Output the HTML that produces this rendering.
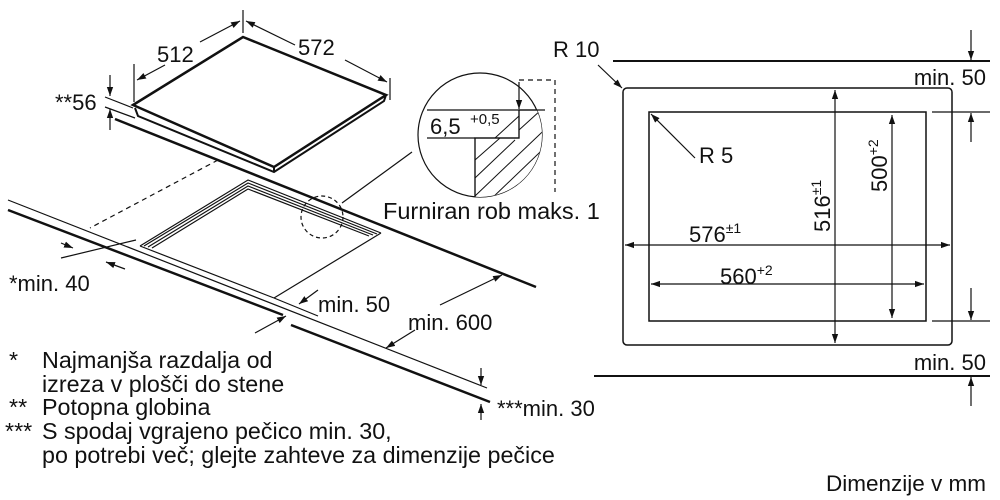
<!DOCTYPE html>
<html><head><meta charset="utf-8"><style>
body{margin:0;background:#fff}
svg{display:block}
text{font-family:"Liberation Sans",sans-serif;fill:#111}
</style></head><body>
<svg width="1000" height="500" viewBox="0 0 1000 500" xmlns="http://www.w3.org/2000/svg">
<defs>
<marker id="a" viewBox="0 0 10 10" refX="10" refY="5" markerWidth="9" markerHeight="9" orient="auto-start-reverse" markerUnits="userSpaceOnUse"><path d="M0,1.5 L10,5 L0,8.5 z" fill="#111"/></marker>
<clipPath id="cc"><circle cx="480" cy="135" r="62"/></clipPath>
</defs>
<g stroke="#111" fill="none" stroke-width="1.2">
<polygon points="133,105 243,37 386,95 274,167" stroke-width="2.5" fill="#fff"/>
<polyline points="135,108 138,116 274,172 384,101 386,95" stroke-width="2"/>
<line x1="274" y1="167" x2="274" y2="172" stroke-width="2"/>
<line x1="134" y1="64" x2="134" y2="102"/>
<line x1="243" y1="10" x2="243" y2="33"/>
<line x1="390" y1="78" x2="390" y2="100"/>
<line x1="200" y1="42" x2="240" y2="21" marker-end="url(#a)"/>
<line x1="165" y1="65" x2="137" y2="80" marker-end="url(#a)"/>
<line x1="295" y1="45" x2="246" y2="21" marker-end="url(#a)"/>
<line x1="345" y1="60" x2="387" y2="82" marker-end="url(#a)"/>
<line x1="105" y1="97" x2="133" y2="108"/>
<line x1="105" y1="107" x2="135" y2="118"/>
<line x1="110" y1="75" x2="110" y2="96" marker-end="url(#a)"/>
<line x1="110" y1="130" x2="110" y2="109" marker-end="url(#a)"/>
<line x1="115" y1="119" x2="536" y2="287" stroke-width="2.5"/>
<line x1="8" y1="200" x2="487" y2="388"/>
<line x1="8" y1="210" x2="283" y2="315" stroke-width="2.5"/>
<line x1="291" y1="325" x2="490" y2="402" stroke-width="2.5"/>
<line x1="218" y1="160" x2="90" y2="228" stroke-dasharray="5,4"/>
<line x1="61" y1="258" x2="136" y2="240"/>
<line x1="61" y1="243" x2="73" y2="248" marker-end="url(#a)"/>
<line x1="125" y1="269" x2="106" y2="262" marker-end="url(#a)"/>
<polyline points="140,246 248,180 381,233"/>
<polyline points="144,246 248,183 377,234"/>
<polyline points="148,247 248,186 373,235"/>
<polyline points="152,248 248,189 369,236"/>
<line x1="140" y1="246" x2="274" y2="298"/>
<line x1="381" y1="233" x2="274" y2="298"/>
<circle cx="322" cy="217" r="21" stroke-dasharray="4,3"/>
<line x1="342" y1="203" x2="412" y2="152"/>
<line x1="274" y1="298" x2="318" y2="316"/>
<line x1="318" y1="290" x2="299" y2="304" marker-end="url(#a)"/>
<line x1="255" y1="333" x2="286" y2="316" marker-end="url(#a)"/>
<line x1="415" y1="330" x2="386" y2="348" marker-end="url(#a)"/>
<line x1="440" y1="305" x2="502" y2="275" marker-end="url(#a)"/>
<line x1="481" y1="368" x2="481" y2="385" marker-end="url(#a)"/>
<line x1="481" y1="420" x2="481" y2="404" marker-end="url(#a)"/>
<circle cx="480" cy="135" r="62" fill="#fff"/>
<g clip-path="url(#cc)">
<polygon points="519,110 560,110 560,200 475,200 475,138 519,138" fill="#fff"/>
<g stroke-width="1">
<line x1="475" y1="160" x2="500" y2="138"/><line x1="475" y1="178" x2="515" y2="140"/>
<line x1="475" y1="196" x2="560" y2="115"/><line x1="490" y1="200" x2="560" y2="133"/>
<line x1="508" y1="200" x2="560" y2="151"/><line x1="519" y1="130" x2="541" y2="110"/>
<line x1="495" y1="138" x2="519" y2="116"/>
</g>
</g>
<polyline points="427,110 519,110 519,138 475,138 475,197"/>
<line x1="427" y1="138" x2="475" y2="138"/>
<line x1="519" y1="110" x2="545" y2="110"/>
<polyline points="519,80 555,80 555,192" stroke-dasharray="5,4"/>
<line x1="519" y1="82" x2="519" y2="109" marker-end="url(#a)"/>
<line x1="613" y1="61" x2="990" y2="61" stroke-width="2"/>
<line x1="594" y1="376" x2="990" y2="376" stroke-width="2"/>
<line x1="971" y1="30" x2="971" y2="60" marker-end="url(#a)"/>
<line x1="971" y1="406" x2="971" y2="377" marker-end="url(#a)"/>
<rect x="623" y="88" width="329" height="257" rx="4" stroke-width="1.5"/>
<rect x="649" y="112" width="277" height="209" stroke-width="1.5"/>
<line x1="932" y1="112" x2="990" y2="112"/>
<line x1="932" y1="321" x2="990" y2="321"/>
<line x1="971" y1="142" x2="971" y2="113" marker-end="url(#a)"/>
<line x1="971" y1="288" x2="971" y2="320" marker-end="url(#a)"/>
<line x1="835" y1="90" x2="835" y2="343" marker-start="url(#a)" marker-end="url(#a)"/>
<line x1="892" y1="115" x2="892" y2="318" marker-start="url(#a)" marker-end="url(#a)"/>
<line x1="625" y1="245" x2="950" y2="245" marker-start="url(#a)" marker-end="url(#a)"/>
<line x1="651" y1="284" x2="924" y2="284" marker-start="url(#a)" marker-end="url(#a)"/>
<line x1="695" y1="158" x2="651" y2="114" marker-end="url(#a)"/>
<line x1="598" y1="65" x2="622" y2="88" marker-end="url(#a)"/>
</g>
<g font-size="22">
<text x="157" y="62">512</text>
<text x="298" y="55">572</text>
<text x="55" y="110">**56</text>
<text x="9" y="291">*min. 40</text>
<text x="318" y="312">min. 50</text>
<text x="408" y="330">min. 600</text>
<text x="497" y="416">***min. 30</text>
<text x="430" y="134">6,5</text>
<text x="470" y="124" font-size="15">+0,5</text>
<text x="383" y="219" font-size="23.5">Furniran rob maks. 1</text>
<text x="553" y="57">R 10</text>
<text x="986" y="85" text-anchor="end">min. 50</text>
<text x="986" y="370" text-anchor="end">min. 50</text>
<text x="699" y="163">R 5</text>
<text x="689" y="242">576<tspan font-size="14" dy="-9">±1</tspan></text>
<text x="720" y="284">560<tspan font-size="14" dy="-9">+2</tspan></text>
<text transform="translate(830,232) rotate(-90)">516<tspan font-size="14" dy="-9">±1</tspan></text>
<text transform="translate(887,192) rotate(-90)">500<tspan font-size="14" dy="-9">+2</tspan></text>
</g>
<g font-size="23.3">
<text x="9" y="368">*</text><text x="42" y="368">Najmanjša razdalja od</text>
<text x="42" y="392">izreza v plošči do stene</text>
<text x="9" y="415">**</text><text x="42" y="415">Potopna globina</text>
<text x="5" y="439">***</text><text x="42" y="439">S spodaj vgrajeno pečico min. 30,</text>
<text x="42" y="463">po potrebi več; glejte zahteve za dimenzije pečice</text>
<text x="986" y="491" text-anchor="end" font-size="22.5">Dimenzije v mm</text>
</g>
</svg>
</body></html>
